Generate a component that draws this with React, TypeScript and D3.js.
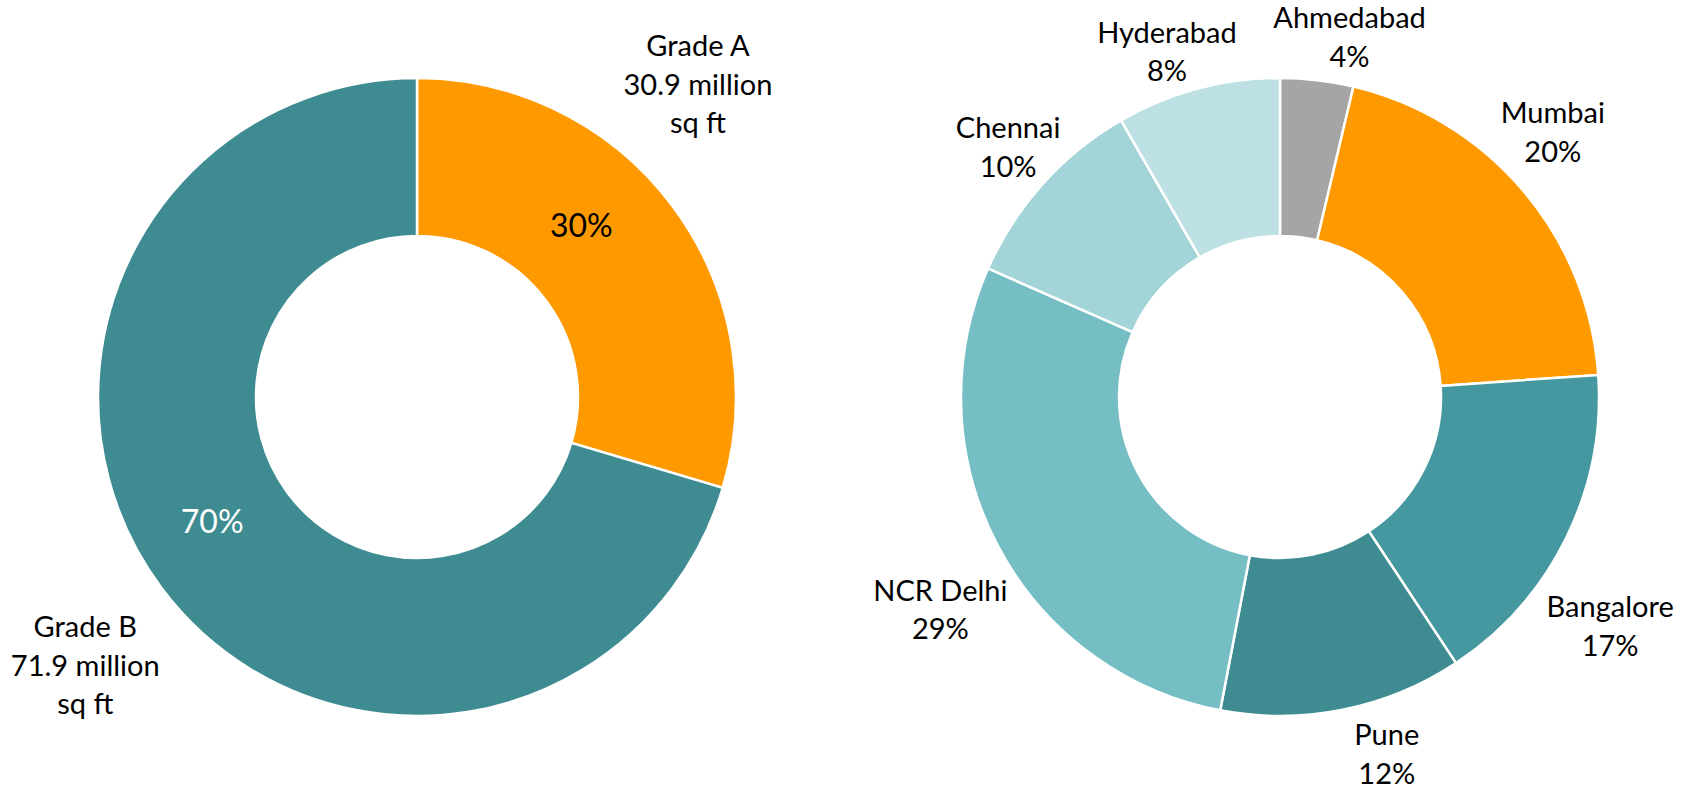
import React from "react";
import * as d3 from "d3";

// ---- Data ----
const gradeCategories = ["Grade A", "Grade B"];
const gradeAreaLabels = ["30.9 million", "71.9 million"];
// share of stock (%) as drawn
const gradeShares = [29.6, 70.4];

const cityCategories = ["Ahmedabad", "Mumbai", "Bangalore", "Pune", "NCR Delhi", "Chennai", "Hyderabad"];
const cityShares = [3.7, 20.2, 16.8, 12.3, 28.6, 10.1, 8.3];

// ---- Styles / layout (kept apart from data) ----
const gradeColors = ["#FF9900", "#3E8C92"];
const cityColors = ["#A5A5A5", "#FF9900", "#4698A0", "#3E8C92", "#74BEC4", "#A2D4D8", "#BCE0E3"];
const W = 1688;
const H = 789;
const OUTER = 319;
const INNER = 161;
const LEFT_C = { x: 417, y: 397 };
const RIGHT_C = { x: 1280, y: 397 };
const FONT = "Lato, 'Open Sans', sans-serif";
const LINE = 38.5;
// label placement: [angle nudge from slice mid-angle (deg), radius]
const gradeOuterLabelPlace = [[-11.3, 420], [-2.3, 427]];
const gradeInnerLabelPlace = [[-9.4, 237], [5.3, 240]];
const cityLabelPlace = [[4.3, 366], [-3.8, 380], [8.5, 402], [-5.3, 373], [-4.4, 401], [0.6, 369], [-3.2, 363]];

function polar(c: { x: number; y: number }, angRad: number, r: number) {
  return { x: c.x + r * Math.sin(angRad), y: c.y - r * Math.cos(angRad) };
}

function Block({ x, y, lines, size, fill = "#000" }: { x: number; y: number; lines: string[]; size: number; fill?: string }) {
  const n = lines.length;
  const first = y - ((n - 1) * LINE) / 2 + size * 0.345;
  return (
    <text x={x} textAnchor="middle" fontFamily={FONT} fontSize={size} fill={fill}>
      {lines.map((l, i) => (
        <tspan key={i} x={x} y={first + i * LINE}>
          {l}
        </tspan>
      ))}
    </text>
  );
}

export default function App() {
  const pie = d3.pie<number>().sort(null).value((d) => d);
  const arc = d3.arc<d3.PieArcDatum<number>>().innerRadius(INNER).outerRadius(OUTER);
  const gradeArcs = pie(gradeShares);
  const cityArcs = pie(cityShares);
  const gTotal = d3.sum(gradeShares);
  const cTotal = d3.sum(cityShares);
  const deg = Math.PI / 180;

  return (
    <svg width={W} height={H} style={{ position: "absolute", left: 0, top: 0, background: "#fff" }}>
      <g transform={`translate(${LEFT_C.x},${LEFT_C.y})`}>
        {gradeArcs.map((a, i) => (
          <path key={i} d={arc(a) || ""} fill={gradeColors[i]} stroke="#fff" strokeWidth={2.5} />
        ))}
      </g>
      {gradeArcs.map((a, i) => {
        const mid = (a.startAngle + a.endAngle) / 2;
        const po = polar(LEFT_C, mid + gradeOuterLabelPlace[i][0] * deg, gradeOuterLabelPlace[i][1]);
        const pi = polar(LEFT_C, mid + gradeInnerLabelPlace[i][0] * deg, gradeInnerLabelPlace[i][1]);
        const pct = `${Math.round((gradeShares[i] / gTotal) * 100)}%`;
        return (
          <g key={i}>
            <Block x={po.x} y={po.y} lines={[gradeCategories[i], gradeAreaLabels[i], "sq ft"]} size={29} />
            <Block x={pi.x} y={pi.y} lines={[pct]} size={32} fill={i === 0 ? "#000" : "#fff"} />
          </g>
        );
      })}
      <g transform={`translate(${RIGHT_C.x},${RIGHT_C.y})`}>
        {cityArcs.map((a, i) => (
          <path key={i} d={arc(a) || ""} fill={cityColors[i]} stroke="#fff" strokeWidth={2.5} />
        ))}
      </g>
      {cityArcs.map((a, i) => {
        const mid = (a.startAngle + a.endAngle) / 2;
        const p = polar(RIGHT_C, mid + cityLabelPlace[i][0] * deg, cityLabelPlace[i][1]);
        const pct = `${Math.round((cityShares[i] / cTotal) * 100)}%`;
        return <Block key={i} x={p.x} y={p.y} lines={[cityCategories[i], pct]} size={29} />;
      })}
    </svg>
  );
}
